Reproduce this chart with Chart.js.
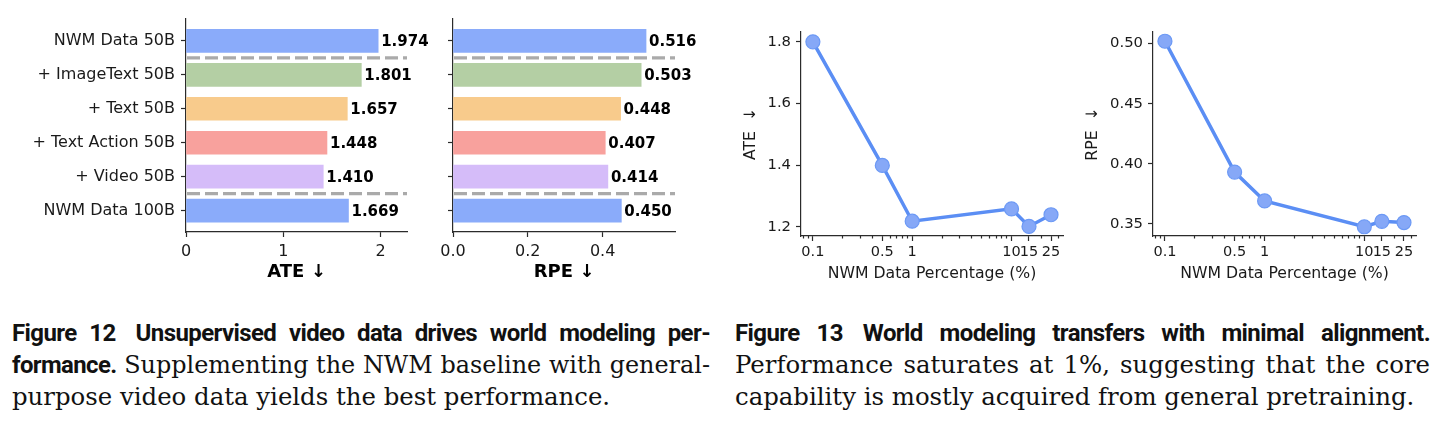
<!DOCTYPE html>
<html>
<head>
<meta charset="utf-8">
<script src="https://cdn.jsdelivr.net/npm/chart.js@4.4.1/dist/chart.umd.min.js"></script>
<style>
  body { margin: 0; background: #fff; }
  #page { position: relative; width: 1438px; height: 432px; overflow: hidden; background: #fff; }
  canvas { position: absolute; }
  .cap { position: absolute; color: #111; }
  .ln { font-family: "DejaVu Serif", serif; font-size: 24.4px; height: 32px; line-height: 32px;
        white-space: nowrap; text-align: justify; text-align-last: justify; }
  .ln.last { text-align-last: left; }
  .b { font-family: Roboto, sans-serif; font-weight: 700; font-size: 24px; letter-spacing: -0.6px; }
  .gap { display: inline-block; width: 20px; }
</style>
</head>
<body>
<div id="page">
  <canvas id="ateBar" width="440" height="290" style="left:0;top:0"></canvas>
  <canvas id="rpeBar" width="270" height="290" style="left:430px;top:0"></canvas>
  <canvas id="ateLine" width="360" height="290" style="left:720px;top:0"></canvas>
  <canvas id="rpeLine" width="358" height="290" style="left:1080px;top:0"></canvas>

  <div class="cap" style="left:12px;top:317px;width:698px">
    <div class="ln"><span class="b">Figure&nbsp;12</span><span class="gap"></span><span class="b">Unsupervised video data drives world modeling per-</span></div>
    <div class="ln"><span class="b">formance.</span> Supplementing the NWM baseline with general-</div>
    <div class="ln last">purpose video data yields the best performance.</div>
  </div>
  <div class="cap" style="left:735px;top:317px;width:695px">
    <div class="ln"><span class="b">Figure&nbsp;13</span><span class="gap"></span><span class="b">World modeling transfers with minimal alignment.</span></div>
    <div class="ln">Performance saturates at 1%, suggesting that the core</div>
    <div class="ln last">capability is mostly acquired from general pretraining.</div>
  </div>
</div>

<script>
// ---- data ----
const categories = ['NWM Data 50B', '+ ImageText 50B', '+ Text 50B', '+ Text Action 50B', '+ Video 50B', 'NWM Data 100B'];
const ateBars = [1.974, 1.801, 1.657, 1.448, 1.410, 1.669];
const rpeBars = [0.516, 0.503, 0.448, 0.407, 0.414, 0.450];
const barColors = ['#8aabfa', '#b4cfa4', '#f8cb8c', '#f8a19d', '#d5bcf9', '#8aabfa'];
const ateBarTicks = [0, 1, 2];
const rpeBarTicks = [0, 0.2, 0.4];
const dividers = [0.5, 4.5];

const percent = [0.1, 0.5, 1, 10, 15, 25];
const percentLabels = ['0.1', '0.5', '1', '10', '15', '25'];
const minorPercent = [0.08, 0.09, 0.2, 0.3, 0.4, 0.6, 0.7, 0.8, 0.9, 2, 3, 4, 5, 6, 7, 8, 9, 20, 30];
const ateLine = [1.800, 1.399, 1.218, 1.258, 1.201, 1.239];
const rpeLine = [0.502, 0.393, 0.369, 0.3475, 0.352, 0.351];
const ateLineTicks = [1.2, 1.4, 1.6, 1.8];
const rpeLineTicks = [0.35, 0.40, 0.45, 0.50];

const FONT = '"DejaVu Sans", sans-serif';
const INK = '#1a1a1a';
const SPINE = '#2b2b2b';

// keep each caption line on one row (shrink a little if it would overflow)
document.querySelectorAll('.ln').forEach(el => {
  let size = parseFloat(getComputedStyle(el).fontSize);
  while (el.scrollWidth > el.clientWidth + 1 && size > 16) {
    size -= 0.25;
    el.style.fontSize = size + 'px';
    el.querySelectorAll('.b').forEach(b => { b.style.fontSize = size + 'px'; });
  }
});

// dashed separators + value labels on the bar panels
const barExtras = {
  id: 'barExtras',
  afterDatasetsDraw(chart) {
    const { ctx, chartArea, scales } = chart;
    ctx.save();
    ctx.strokeStyle = '#aaaaaa';
    ctx.lineWidth = 3.2;
    ctx.setLineDash([13, 5]);
    dividers.forEach(d => {
      const y = scales.y.getPixelForValue(d);
      ctx.beginPath();
      ctx.moveTo(chartArea.left + 1, y);
      ctx.lineTo(chartArea.right, y);
      ctx.stroke();
    });
    ctx.setLineDash([]);
    ctx.fillStyle = '#000';
    ctx.font = 'bold 15px ' + FONT;
    ctx.textBaseline = 'middle';
    const vals = chart.data.datasets[0].data;
    chart.getDatasetMeta(0).data.forEach((bar, i) => {
      ctx.fillText(vals[i].x.toFixed(3), bar.x + 3, bar.y + 1);
    });
    ctx.restore();
  }
};

function tickGrid(len) {
  return { display: true, drawOnChartArea: false, drawTicks: true, tickLength: len, color: SPINE, tickWidth: 1.2 };
}

function barChart(id, values, xMax, xTicks, fmt, title, showNames, yWidth, padRight) {
  new Chart(document.getElementById(id), {
    type: 'bar',
    data: {
      datasets: [{
        data: values.map((v, i) => ({ x: v, y: i })),
        backgroundColor: barColors,
        borderWidth: 0,
        barThickness: 23
      }]
    },
    options: {
      indexAxis: 'y',
      responsive: false,
      animation: false,
      layout: { padding: { left: 0, right: padRight, top: 19, bottom: 0 } },
      plugins: { legend: { display: false }, tooltip: { enabled: false } },
      scales: {
        x: {
          type: 'linear', min: 0, max: xMax,
          afterBuildTicks: s => { s.ticks = xTicks.map(v => ({ value: v })); },
          afterFit: s => { s.height = 58; },
          ticks: { callback: v => fmt(v), font: { family: FONT, size: 16 }, color: INK, padding: 5, maxRotation: 0, autoSkip: false },
          grid: tickGrid(5),
          border: { display: true, color: SPINE, width: 1.2 },
          title: { display: true, text: title, color: '#000', font: { family: FONT, size: 18, weight: 'bold' }, padding: { top: 0, bottom: 7 } }
        },
        y: {
          type: 'linear', min: -0.645, max: 5.63, reverse: true, offset: false,
          afterBuildTicks: s => { s.ticks = categories.map((c, i) => ({ value: i })); },
          afterFit: s => { s.width = yWidth; },
          ticks: { callback: v => showNames ? categories[v] : '', font: { family: FONT, size: 16 }, color: INK, padding: 6, autoSkip: false },
          grid: Object.assign(tickGrid(5), { offset: false }),
          border: { display: true, color: SPINE, width: 1.2 }
        }
      }
    },
    plugins: [barExtras]
  });
}

function lineChart(id, values, yMin, yMax, yTicks, yFmt, yTitle, yWidth, titlePad, padRight) {
  new Chart(document.getElementById(id), {
    type: 'line',
    data: {
      datasets: [{
        data: percent.map((p, i) => ({ x: p, y: values[i] })),
        borderColor: '#5b8ef4',
        borderWidth: 3.5,
        pointRadius: 7,
        pointBackgroundColor: '#86a8f7',
        pointBorderColor: '#6c99f5',
        pointBorderWidth: 1.2,
        tension: 0,
        clip: false
      }]
    },
    options: {
      responsive: false,
      animation: false,
      layout: { padding: { left: 0, right: padRight, top: 32, bottom: 0 } },
      plugins: { legend: { display: false }, tooltip: { enabled: false } },
      scales: {
        x: {
          type: 'logarithmic', min: 0.0759, max: 33, weight: 1,
          afterBuildTicks: s => { s.ticks = percent.map(v => ({ value: v })); },
          afterFit: s => { s.height = 54; },
          ticks: { callback: v => percentLabels[percent.indexOf(v)], font: { family: FONT, size: 14.5 }, color: INK, padding: 3, maxRotation: 0, autoSkip: false },
          grid: tickGrid(5),
          border: { display: true, color: SPINE, width: 1.2 },
          title: { display: true, text: 'NWM Data Percentage (%)', color: INK, font: { family: FONT, size: 15.7 }, padding: { top: 0, bottom: 7 } }
        },
        xMinor: {
          type: 'logarithmic', position: 'bottom', min: 0.0759, max: 33, weight: 0,
          afterBuildTicks: s => { s.ticks = minorPercent.map(v => ({ value: v })); },
          afterFit: s => { s.height = 0; },
          ticks: { display: false },
          grid: tickGrid(2.5),
          border: { display: false }
        },
        y: {
          type: 'linear', min: yMin, max: yMax,
          afterBuildTicks: s => { s.ticks = yTicks.map(v => ({ value: v })); },
          afterFit: s => { s.width = yWidth; },
          ticks: { callback: v => yFmt(v), font: { family: FONT, size: 14.8 }, color: INK, padding: 5, autoSkip: false },
          grid: tickGrid(5),
          border: { display: true, color: SPINE, width: 1.2 },
          title: { display: true, text: yTitle, color: INK, font: { family: FONT, size: 15.7 }, padding: { top: titlePad, bottom: 0 } }
        }
      }
    }
  });
}

barChart('ateBar', ateBars, 1.974 * 1.15, ateBarTicks, v => String(v), 'ATE \u2193', true, 186, 33);
barChart('rpeBar', rpeBars, 0.516 * 1.15, rpeBarTicks, v => v.toFixed(1), 'RPE \u2193', false, 23, 25);
lineChart('ateLine', ateLine, 1.17, 1.832, ateLineTicks, v => v.toFixed(1), 'ATE  \u2193', 81, 22, 17);
lineChart('rpeLine', rpeLine, 0.3398, 0.5097, rpeLineTicks, v => v.toFixed(2), 'RPE  \u2193', 73, 4, 22);
</script>
</body>
</html>
